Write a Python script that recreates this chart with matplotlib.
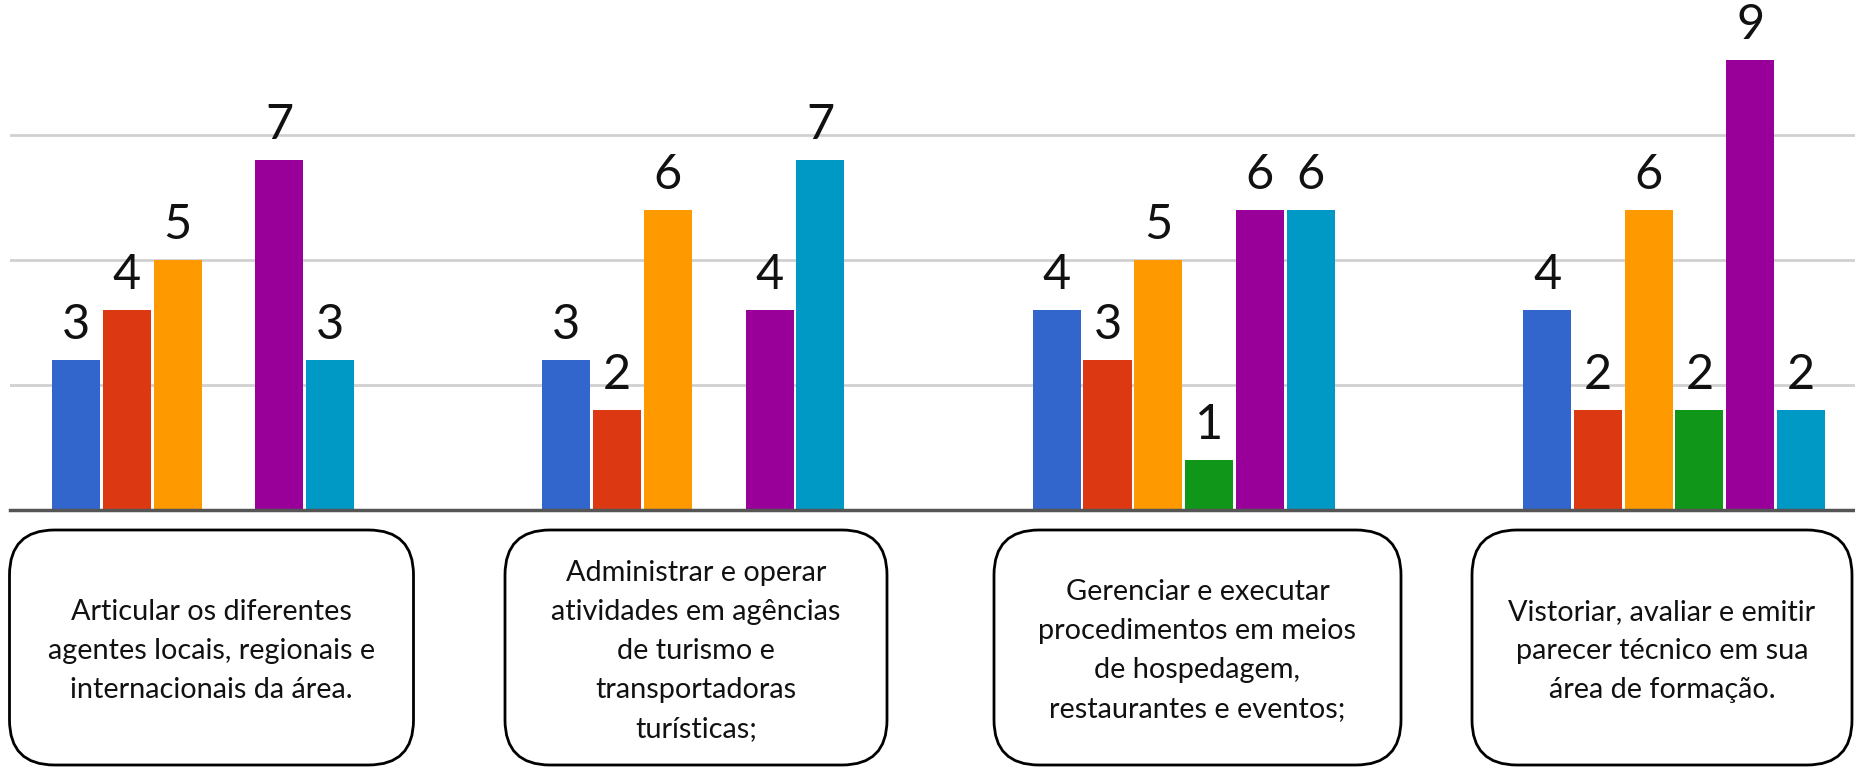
import numpy as np
import matplotlib
matplotlib.use("Agg")
import matplotlib.pyplot as plt
from matplotlib.patches import FancyBboxPatch

plt.rcParams['font.family'] = ['Lato', 'DejaVu Sans']

# data: 4 competencies, 6 series each (NaN = no bar)
categories = [
    "Articular os diferentes\nagentes locais, regionais e\ninternacionais da área.",
    "Administrar e operar\natividades em agências\nde turismo e\ntransportadoras\nturísticas;",
    "Gerenciar e executar\nprocedimentos em meios\nde hospedagem,\nrestaurantes e eventos;",
    "Vistoriar, avaliar e emitir\nparecer técnico em sua\nárea de formação.",
]
s1 = [3, 3, 4, 4]
s2 = [4, 2, 3, 2]
s3 = [5, 6, 5, 6]
s4 = [np.nan, np.nan, 1, 2]
s5 = [7, 4, 6, 9]
s6 = [3, 7, 6, 2]
series = [s1, s2, s3, s4, s5, s6]
colors = ['#3366CC', '#DC3912', '#FF9900', '#109618', '#990099', '#0099C6']

W, H = 1855, 768
fig = plt.figure(figsize=(W / 100, H / 100), dpi=100)
base_px = 510
ax = fig.add_axes([9.5 / W, 1 - base_px / H, (W - 9.5) / W, base_px / H])

x = np.arange(len(categories))
pitch = 0.1036
bw = 0.098
for i, (vals, c) in enumerate(zip(series, colors)):
    pos = x + (i - 2.5) * pitch
    ax.bar(pos, vals, width=bw, color=c, zorder=3)
    for p, v in zip(pos, vals):
        if not np.isnan(v):
            ax.text(p, v + 0.26, f"{v:g}", ha='center', va='bottom',
                    fontsize=35, color='#111111', zorder=4)

ax.set_xlim(-0.3947, 3.369)
ax.set_ylim(0, 10.2)
ax.set_yticks([2.5, 5, 7.5])
ax.yaxis.grid(True, color='#d0d0d0', linewidth=2, zorder=0)
ax.tick_params(left=False, bottom=False, labelleft=False, labelbottom=False)
for s in ['top', 'right', 'left']:
    ax.spines[s].set_visible(False)
ax.spines['bottom'].set_color('#555555')
ax.spines['bottom'].set_linewidth(2.5)
ax.spines['bottom'].set_zorder(5)

# label boxes below the axis (pixel layout)
boxes = [(9.5, 404), (505, 382), (994, 407), (1472, 380)]
box_top, box_bot = 530, 765
r = 45
for (left, width), label in zip(boxes, categories):
    patch = FancyBboxPatch((left + r, H - box_bot + r), width - 2 * r, box_bot - box_top - 2 * r,
                           boxstyle=f"round,pad={r},rounding_size={r}",
                           transform=None, facecolor='white', edgecolor='black', linewidth=2)
    fig.patches.append(patch)
    fig.text((left + width / 2) / W, 1 - (box_top + box_bot) / 2 / H - 0.004, label,
             ha='center', va='center', multialignment='center',
             fontsize=20.8, linespacing=1.62, color='#111111')

fig.savefig("out.png", dpi=100, facecolor='white')
